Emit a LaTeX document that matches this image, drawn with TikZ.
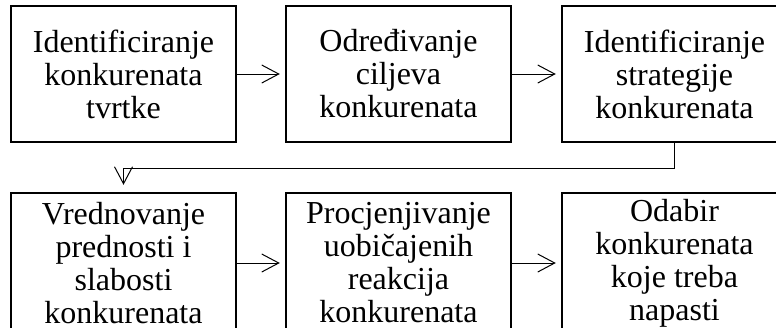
\documentclass[tikz,border=0pt]{standalone}
\usepackage{fontspec}
\setmainfont{Liberation Serif}
\usetikzlibrary{arrows.meta}
\begin{document}
\begin{tikzpicture}[x=1pt,y=1pt,
  stepbox/.style={draw, line width=2.4pt, minimum width=225pt, minimum height=136pt,
    align=center, inner sep=0pt, font=\fontsize{32}{33}\selectfont},
  lowbox/.style={stepbox, minimum height=140pt},
  conn/.style={line width=1pt, -{Straight Barb[length=17pt,width=18pt]}}]
\useasboundingbox (0,0) rectangle (776,-327);
\clip (0,0) rectangle (776,-327);
\node[stepbox] (b1) at (123.5,-74) {Identificiranje\\konkurenata\\tvrtke};
\node[stepbox] (b2) at (398.5,-74) {Određivanje\\ciljeva\\konkurenata};
\node[stepbox] (b3) at (674.5,-74) {Identificiranje\\strategije\\konkurenata};
\node[lowbox] (b4) at (123.5,-263) {Vrednovanje\\prednosti i\\slabosti\\konkurenata};
\node[lowbox] (b5) at (398.5,-263) {Procjenjivanje\\uobičajenih\\reakcija\\konkurenata};
\node[lowbox] (b6) at (674.5,-263) {Odabir\\konkurenata\\koje treba\\napasti};
\draw[conn, shorten >=5pt] (b1.east) -- (b2.west);
\draw[conn, shorten >=5pt] (b2.east) -- (b3.west);
\draw[conn, shorten >=5pt] (b4.east) -- (b5.west);
\draw[conn, shorten >=5pt] (b5.east) -- (b6.west);
\coordinate (bend) at (674.5,-168);
\draw[conn, shorten >=7pt] (b3.south) -- (bend) -| (b4.north);
\end{tikzpicture}
\end{document}
